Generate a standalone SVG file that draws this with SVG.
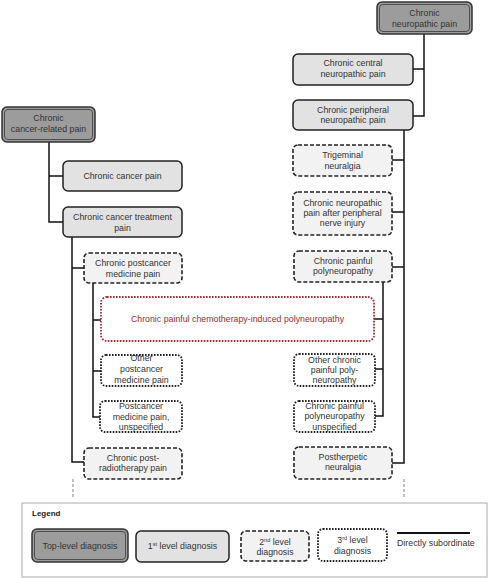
<svg xmlns="http://www.w3.org/2000/svg" width="490" height="578" viewBox="0 0 490 578">
<style>
.t{font-family:"Liberation Sans",Arial,sans-serif;font-size:8.8px;fill:#333;text-anchor:middle}
.top{fill:#9c9c9c;stroke:#333;stroke-width:1.5}
.topin{fill:none;stroke:#444;stroke-width:0.9}
.l1{fill:#e2e2e2;stroke:#222;stroke-width:1.5}
.l2{fill:#f2f2f2;stroke:#222;stroke-width:1.6;stroke-dasharray:4 2}
.l3{fill:#fff;stroke:#222;stroke-width:1.8;stroke-dasharray:1.6 1.4}
.red{fill:#fff;stroke:#a32a2a;stroke-width:1.8;stroke-dasharray:1.6 1.4}
.c{fill:none;stroke:#111;stroke-width:1.5}
.d{fill:none;stroke:#999;stroke-width:1.2;stroke-dasharray:3 2}
</style>
<rect width="490" height="578" fill="#fff"/>
<g id="connectors">
<path class="c" d="M49,142V222H63M49,176H63"/>
<path class="c" d="M72,237V462H84M72,268H84"/>
<path class="c" d="M93,283V417H100M93,320H101M93,371H101"/>
<path class="c" d="M424,34V116H413M424,69H413"/>
<path class="c" d="M404,130V463H392M404,160H392M404,212H392M404,267H392"/>
<path class="c" d="M383,282V416H375M383,319H374M383,369H375"/>
<path class="d" d="M73,479V498M404,479V498"/>
</g>
<g id="n-cancer-related">
<rect class="top" x="2" y="107" width="93" height="35" rx="5"/>
<rect class="topin" x="4.5" y="109.5" width="88" height="30" rx="3.5"/>
<text class="t" x="48.5" y="121">Chronic</text>
<text class="t" x="48.5" y="132">cancer-related pain</text>
</g>
<g id="n-cancer-pain">
<rect class="l1" x="63" y="161" width="119" height="30" rx="5"/>
<text class="t" x="122.5" y="179">Chronic cancer pain</text>
</g>
<g id="n-treatment">
<rect class="l1" x="63" y="207" width="119" height="30" rx="5"/>
<text class="t" x="122.5" y="220">Chronic cancer treatment</text>
<text class="t" x="122.5" y="231">pain</text>
</g>
<g id="n-postcancer">
<rect class="l2" x="84" y="253" width="98" height="30" rx="5"/>
<text class="t" x="133" y="266">Chronic postcancer</text>
<text class="t" x="133" y="277">medicine pain</text>
</g>
<g id="n-cipn">
<rect class="red" x="101" y="297" width="273" height="44" rx="6"/>
<text class="t" x="237.5" y="322" style="fill:#b0282a">Chronic painful chemotherapy-induced polyneuropathy</text>
</g>
<g id="n-other-postcancer">
<rect class="l3" x="101" y="355" width="81" height="31" rx="5"/>
<text class="t" x="141.5" y="361">Other</text>
<text class="t" x="141.5" y="372">postcancer</text>
<text class="t" x="141.5" y="383">medicine pain</text>
</g>
<g id="n-postcancer-unspec">
<rect class="l3" x="100" y="401" width="82" height="31" rx="5"/>
<text class="t" x="141" y="409">Postcancer</text>
<text class="t" x="141" y="420">medicine pain,</text>
<text class="t" x="141" y="430">unspecified</text>
</g>
<g id="n-radiotherapy">
<rect class="l2" x="84" y="448" width="98" height="31" rx="5"/>
<text class="t" x="133" y="461">Chronic post-</text>
<text class="t" x="133" y="471">radiotherapy pain</text>
</g>
<g id="n-neuropathic">
<rect class="top" x="377" y="2" width="95" height="32" rx="5"/>
<rect class="topin" x="379.5" y="4.5" width="90" height="27" rx="3.5"/>
<text class="t" x="424.5" y="16">Chronic</text>
<text class="t" x="424.5" y="27">neuropathic pain</text>
</g>
<g id="n-central">
<rect class="l1" x="293" y="54" width="120" height="31" rx="5"/>
<text class="t" x="353" y="66">Chronic central</text>
<text class="t" x="353" y="77">neuropathic pain</text>
</g>
<g id="n-peripheral">
<rect class="l1" x="293" y="100" width="120" height="30" rx="5"/>
<text class="t" x="353" y="113">Chronic peripheral</text>
<text class="t" x="353" y="123">neuropathic pain</text>
</g>
<g id="n-trigeminal">
<rect class="l2" x="293" y="145" width="99" height="31" rx="5"/>
<text class="t" x="342.5" y="158">Trigeminal</text>
<text class="t" x="342.5" y="169">neuralgia</text>
</g>
<g id="n-nerve-injury">
<rect class="l2" x="293" y="192" width="99" height="43" rx="5"/>
<text class="t" x="342.5" y="206">Chronic neuropathic</text>
<text class="t" x="342.5" y="216">pain after peripheral</text>
<text class="t" x="342.5" y="226">nerve injury</text>
</g>
<g id="n-polyneuropathy">
<rect class="l2" x="294" y="251" width="98" height="31" rx="5"/>
<text class="t" x="343" y="264">Chronic painful</text>
<text class="t" x="343" y="274">polyneuropathy</text>
</g>
<g id="n-other-poly">
<rect class="l3" x="294" y="354" width="81" height="32" rx="5"/>
<text class="t" x="334.5" y="363">Other chronic</text>
<text class="t" x="334.5" y="373">painful poly-</text>
<text class="t" x="334.5" y="383">neuropathy</text>
</g>
<g id="n-poly-unspec">
<rect class="l3" x="294" y="401" width="81" height="31" rx="5"/>
<text class="t" x="334.5" y="409">Chronic painful</text>
<text class="t" x="334.5" y="419">polyneuropathy</text>
<text class="t" x="334.5" y="430">unspecified</text>
</g>
<g id="n-postherpetic">
<rect class="l2" x="294" y="447" width="98" height="32" rx="5"/>
<text class="t" x="343" y="460">Postherpetic</text>
<text class="t" x="343" y="470">neuralgia</text>
</g>
<g id="legend">
<rect x="22" y="503" width="465" height="74" fill="#fff" stroke="#aaa" stroke-width="1"/>
<text class="t" x="32" y="516" style="text-anchor:start;font-weight:bold;font-size:8px;fill:#222">Legend</text>
<rect class="top" x="32" y="529" width="96" height="33" rx="5"/>
<rect class="topin" x="34.5" y="531.5" width="91" height="28" rx="3.5"/>
<text class="t" x="80" y="548.5">Top-level diagnosis</text>
<rect class="l1" x="136" y="531" width="93" height="31" rx="5"/>
<text class="t" x="182.5" y="549">1<tspan font-size="5.5" dy="-3">st</tspan><tspan dy="3"> level diagnosis</tspan></text>
<rect class="l2" x="241" y="531" width="68" height="30" rx="5"/>
<text class="t" x="275" y="545">2<tspan font-size="5.5" dy="-3">nd</tspan><tspan dy="3"> level</tspan></text>
<text class="t" x="275" y="555">diagnosis</text>
<rect class="l3" x="318" y="529" width="69" height="32" rx="5"/>
<text class="t" x="352.5" y="543">3<tspan font-size="5.5" dy="-3">rd</tspan><tspan dy="3"> level</tspan></text>
<text class="t" x="352.5" y="554">diagnosis</text>
<path d="M397,533H470" stroke="#111" stroke-width="2"/>
<text class="t" x="397" y="546" style="text-anchor:start">Directly subordinate</text>
</g>
</svg>
